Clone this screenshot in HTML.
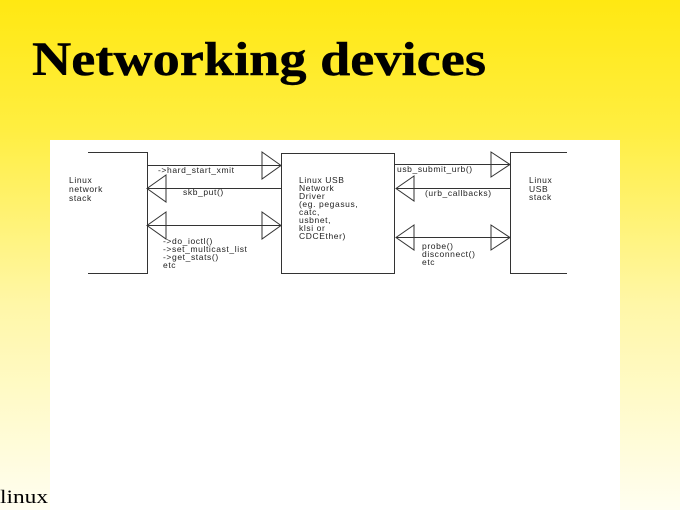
<!DOCTYPE html>
<html><head><meta charset="utf-8"><style>
html,body{margin:0;padding:0;width:680px;height:510px;overflow:hidden}
body{background:linear-gradient(to bottom,#ffe812 0%,#ffee40 25%,#fff7a8 60%,#fffef0 100%)}
</style></head><body>
<svg width="680" height="510" xmlns="http://www.w3.org/2000/svg" style="position:absolute;left:0;top:0">
<text x="32" y="75" font-family="Liberation Serif, serif" font-weight="bold" font-size="48" textLength="454" lengthAdjust="spacingAndGlyphs" fill="#000" stroke="#000" stroke-width="0.4">Networking devices</text>
<rect x="50" y="140" width="570" height="370" fill="#fff"/>
<g stroke="#333" stroke-width="1" fill="none">
<polyline points="88,152.5 147.5,152.5 147.5,273.5 88,273.5"/>
<rect x="281.5" y="153.5" width="113" height="120"/>
<polyline points="567,152.5 510.5,152.5 510.5,273.5 567,273.5"/>
<line x1="147" y1="165.5" x2="281" y2="165.5"/>
<polygon points="262,152 281,165.5 262,179"/>
<line x1="147" y1="188.5" x2="281" y2="188.5"/>
<polygon points="166,175 147,188.5 166,202"/>
<line x1="147" y1="225.5" x2="281" y2="225.5"/>
<polygon points="166,212 147,225.5 166,239"/>
<polygon points="262,212 281,225.5 262,239"/>
<line x1="394" y1="164.5" x2="510" y2="164.5"/>
<polygon points="491,152 510,164.5 491,177"/>
<line x1="396" y1="188.5" x2="510" y2="188.5"/>
<polygon points="414,176 396,188.5 414,201"/>
<line x1="396" y1="237.5" x2="510" y2="237.5"/>
<polygon points="414,225 396,237.5 414,250"/>
<polygon points="491,225 510,237.5 491,250"/>
</g>
<g font-family="Liberation Sans, sans-serif" font-size="8.5" letter-spacing="0.6" fill="#222">
<text x="69" y="183">Linux</text><text x="69" y="192">network</text><text x="69" y="201">stack</text>
<text x="158" y="173">-&gt;hard_start_xmit</text>
<text x="183" y="195">skb_put()</text>
<text x="163" y="244">-&gt;do_ioctl()</text>
<text x="163" y="252">-&gt;set_multicast_list</text>
<text x="163" y="260">-&gt;get_stats()</text>
<text x="163" y="268">etc</text>
<text x="299" y="183">Linux USB</text><text x="299" y="191">Network</text><text x="299" y="199">Driver</text>
<text x="299" y="207">(eg. pegasus,</text><text x="299" y="215">catc,</text><text x="299" y="223">usbnet,</text>
<text x="299" y="231">klsi or</text><text x="299" y="239">CDCEther)</text>
<text x="397" y="172">usb_submit_urb()</text>
<text x="425" y="196">(urb_callbacks)</text>
<text x="422" y="249">probe()</text><text x="422" y="257">disconnect()</text><text x="422" y="265">etc</text>
<text x="529" y="183">Linux</text><text x="529" y="192">USB</text><text x="529" y="200">stack</text>
</g>
<text x="0" y="503" font-family="Liberation Serif, serif" font-size="19" textLength="48" lengthAdjust="spacingAndGlyphs" fill="#000">linux</text>
</svg>
</body></html>
